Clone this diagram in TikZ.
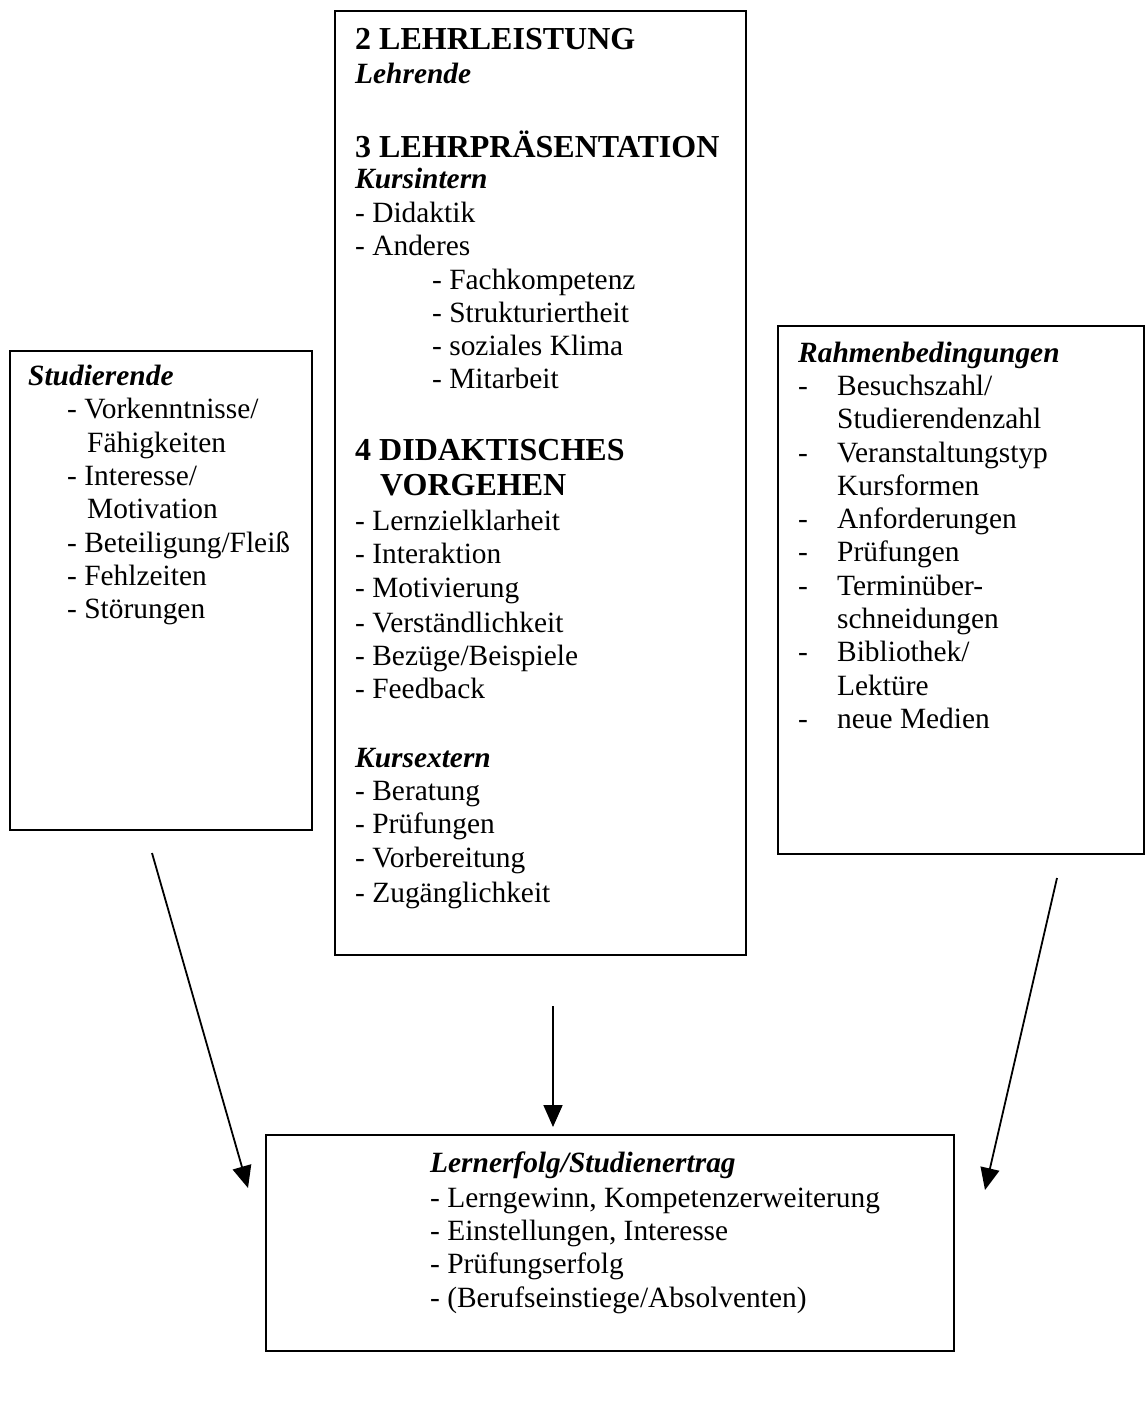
\documentclass[tikz,border=0pt]{standalone}
\usepackage{fontspec}
\setmainfont{Liberation Serif}
\usetikzlibrary{arrows.meta}
\tikzset{
  frame/.style={draw=black, line width=2pt, inner sep=0pt, anchor=north west},
  nm/.style={inner sep=0pt, anchor=base west, font=\fontsize{29.4}{33}\selectfont},
  it/.style={inner sep=0pt, anchor=base west, font=\fontsize{29.4}{33}\selectfont\bfseries\itshape},
  hd/.style={inner sep=0pt, anchor=base west, font=\fontsize{32}{35}\selectfont\bfseries},
  arr/.style={line width=1.8pt, -{Triangle[length=22pt,width=19pt]}}
}
\newcommand\dd{\llap{\makebox[39pt][l]{-}}}
\begin{document}
\begin{tikzpicture}[x=1pt,y=-1pt]
\useasboundingbox (0,0) rectangle (1146,1419);
% frames
\node[frame, minimum width=411pt, minimum height=944pt] (center) at (334,10) {};
\node[frame, minimum width=302pt, minimum height=479pt] (left) at (9,350) {};
\node[frame, minimum width=366pt, minimum height=528pt] (right) at (777,325) {};
\node[frame, minimum width=688pt, minimum height=216pt] (bottom) at (265,1134) {};
% centre text
\foreach \x/\y/\s/\t [count=\i] in {
 355/49/hd/{2 LEHRLEISTUNG},
 355/83/it/{Lehrende},
 355/157/hd/{3 LEHRPRÄSENTATION},
 355/188/it/{Kursintern},
 355/222/nm/{- Didaktik},
 355/255/nm/{- Anderes},
 432/289/nm/{- Fachkompetenz},
 432/322/nm/{- Strukturiertheit},
 432/355/nm/{- soziales Klima},
 432/388/nm/{- Mitarbeit},
 355/460/hd/{4 DIDAKTISCHES},
 380/495/hd/{VORGEHEN},
 355/530/nm/{- Lernzielklarheit},
 355/563/nm/{- Interaktion},
 355/597/nm/{- Motivierung},
 355/632/nm/{- Verständlichkeit},
 355/665/nm/{- Bezüge/Beispiele},
 355/698/nm/{- Feedback},
 355/767/it/{Kursextern},
 355/800/nm/{- Beratung},
 355/833/nm/{- Prüfungen},
 355/867/nm/{- Vorbereitung},
 355/902/nm/{- Zugänglichkeit}}
 \node[\s] (c\i) at (\x,\y) {\t};
% left text
\foreach \x/\y/\s/\t [count=\i] in {
 28/385/it/{Studierende},
 67/418/nm/{- Vorkenntnisse/},
 87/452/nm/{Fähigkeiten},
 67/485/nm/{- Interesse/},
 87/518/nm/{Motivation},
 67/552/nm/{- Beteiligung/Fleiß},
 67/585/nm/{- Fehlzeiten},
 67/618/nm/{- Störungen}}
 \node[\s] (l\i) at (\x,\y) {\t};
% right text
\foreach \x/\y/\s/\t [count=\i] in {
 798/362/it/{Rahmenbedingungen},
 837/395/nm/{\dd Besuchszahl/},
 837/428/nm/{Studierendenzahl},
 837/462/nm/{\dd Veranstaltungstyp},
 837/495/nm/{Kursformen},
 837/528/nm/{\dd Anforderungen},
 837/561/nm/{\dd Prüfungen},
 837/595/nm/{\dd Terminüber-},
 837/628/nm/{schneidungen},
 837/661/nm/{\dd Bibliothek/},
 837/695/nm/{Lektüre},
 837/728/nm/{\dd neue Medien}}
 \node[\s] (r\i) at (\x,\y) {\t};
% bottom text
\foreach \x/\y/\s/\t [count=\i] in {
 430/1172/it/{Lernerfolg/Studienertrag},
 430/1207/nm/{- Lerngewinn, Kompetenzerweiterung},
 430/1240/nm/{- Einstellungen, Interesse},
 430/1273/nm/{- Prüfungserfolg},
 430/1307/nm/{- (Berufseinstiege/Absolventen)}}
 \node[\s] (b\i) at (\x,\y) {\t};
% arrows
\coordinate (la) at (152,853);
\coordinate (lb) at (248,1188);
\coordinate (ma) at (553,1006);
\coordinate (mb) at (553,1127);
\coordinate (ra) at (1057,878);
\coordinate (rb) at (985,1190);
\draw[arr] (la) -- (lb);
\draw[arr] (ma) -- (mb);
\draw[arr] (ra) -- (rb);
\end{tikzpicture}
\end{document}
